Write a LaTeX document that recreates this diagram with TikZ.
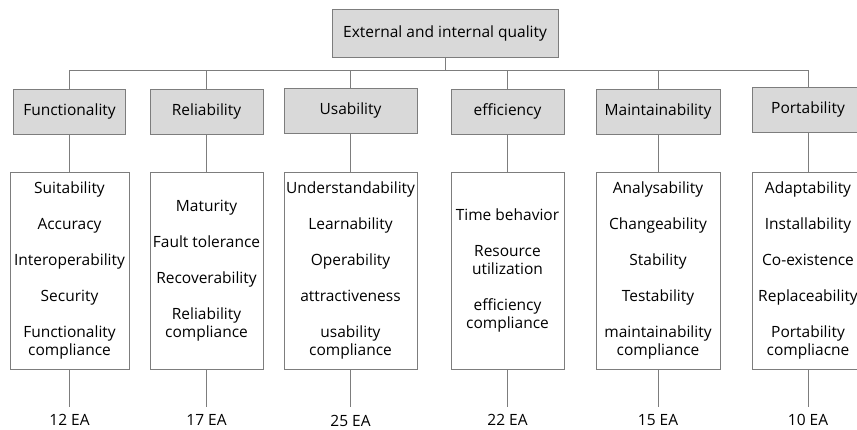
\documentclass[tikz,border=0pt]{standalone}
\usepackage{fontspec}
\setmainfont{Open Sans}
\usetikzlibrary{positioning}
\definecolor{boxgray}{RGB}{217,217,217}
\definecolor{linegray}{RGB}{125,125,125}
\tikzset{
    topbox/.style={draw=linegray, fill=boxgray, line width=1pt, minimum width=226pt, minimum height=48pt, inner sep=0pt, font=\fontsize{15.5}{18}\selectfont},
    catbox/.style={draw=linegray, fill=boxgray, line width=1pt, minimum height=45pt, inner sep=0pt, font=\fontsize{15.5}{18}\selectfont},
    listbox/.style={draw=linegray, fill=white, line width=1pt, minimum height=197pt, inner sep=0pt, align=center, font=\fontsize{15.5}{18}\selectfont},
    countlabel/.style={anchor=north, inner sep=0pt, inner ysep=7pt, font=\fontsize{15.5}{18}\selectfont},
    link/.style={draw=linegray, line width=1pt}
}

\begin{document}
\begin{tikzpicture}[x=1pt, y=-1pt]

    \useasboundingbox (0,0) rectangle (857,429);
    \clip (0,0) rectangle (857,429);

    % -----------------------------------------------------------------
    % RADICE
    % -----------------------------------------------------------------
    \node[topbox] (quality) at (445,33) {External and internal quality};

    % -----------------------------------------------------------------
    % CARATTERISTICHE
    % -----------------------------------------------------------------
    \node[catbox, minimum width=112pt] (func) at (69.5,111.5) {Functionality};
    \node[catbox, minimum width=113pt] (rel)  at (206.5,111.5) {Reliability};
    \node[catbox, minimum width=133pt] (usa)  at (350.5,110.5) {Usability};
    \node[catbox, minimum width=113pt] (eff)  at (507.5,111.5) {efficiency};
    \node[catbox, minimum width=124pt] (main) at (658,111.5) {Maintainability};
    \node[catbox, minimum width=112pt] (port) at (808,109.5) {Portability};

    % collegamenti radice -> caratteristiche
    \foreach \c in {func,rel,usa,eff,main,port}
        \draw[link] (quality.south) -- ++(0,12.5) -| (\c.north);

    % -----------------------------------------------------------------
    % SOTTOCARATTERISTICHE
    % -----------------------------------------------------------------
    \node[listbox, minimum width=119pt] (funclist) at (69.5,270.5)
        {Suitability\\[18pt]Accuracy\\[18pt]Interoperability\\[18pt]Security\\[18pt]Functionality\\compliance};
    \node[listbox, minimum width=113pt] (rellist) at (206.5,270.5)
        {Maturity\\[18pt]Fault tolerance\\[18pt]Recoverability\\[18pt]Reliability\\compliance};
    \node[listbox, minimum width=133pt] (usalist) at (350.5,270.5)
        {Understandability\\[18pt]Learnability\\[18pt]Operability\\[18pt]attractiveness\\[18pt]usability\\compliance};
    \node[listbox, minimum width=113pt] (efflist) at (507.5,270.5)
        {Time behavior\\[18pt]Resource\\utilization\\[18pt]efficiency\\compliance};
    \node[listbox, minimum width=124pt] (mainlist) at (658,270.5)
        {Analysability\\[18pt]Changeability\\[18pt]Stability\\[18pt]Testability\\[18pt]maintainability\\compliance};
    \node[listbox, minimum width=112pt] (portlist) at (808,270.5)
        {Adaptability\\[18pt]Installability\\[18pt]Co-existence\\[18pt]Replaceability\\[18pt]Portability\\compliacne};

    % -----------------------------------------------------------------
    % CONTEGGI
    % -----------------------------------------------------------------
    \node[countlabel] (funccount) at (69.5,407) {12 EA};
    \node[countlabel] (relcount)  at (206.5,407) {17 EA};
    \node[countlabel, inner ysep=8pt] (usacount) at (350.5,407) {25 EA};
    \node[countlabel] (effcount)  at (507.5,407) {22 EA};
    \node[countlabel] (maincount) at (658,407) {15 EA};
    \node[countlabel] (portcount) at (808,407) {10 EA};

    \foreach \c in {func,rel,usa,eff,main,port} {
        \draw[link] (\c) -- (\c list);
        \draw[link] (\c list) -- (\c count);
    }

\end{tikzpicture}
\end{document}
